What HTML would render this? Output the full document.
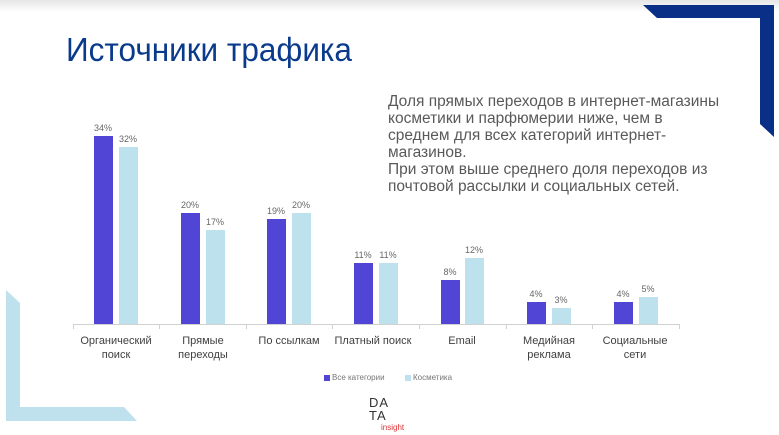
<!DOCTYPE html>
<html><head><meta charset="utf-8"><style>
body{margin:0;width:779px;height:435px;overflow:hidden;background:#fff;font-family:"Liberation Sans",sans-serif;position:relative}
.a{position:absolute}
.v{position:absolute;font-size:9px;color:#666;width:30px;text-align:center}
.l{position:absolute;font-size:11px;color:#404040;width:86px;text-align:center;line-height:14px}
</style></head><body>
<div class="a" style="left:0;top:0;width:779px;height:12px;background:linear-gradient(#e6e6e6,#fff)"></div>
<svg class="a" style="left:0;top:0" width="779" height="435">
<polygon points="643,5 774,5 774,137 760,124 760,18 657,18" fill="#0a2f87"/>
<polygon points="6,290 20,303 20,407 124,407 137,421 6,421" fill="#bfe1ee"/>
<line x1="73" y1="324.5" x2="680" y2="324.5" stroke="#d0d0d0"/>
<g stroke="#d0d0d0">
<line x1="73.5" y1="324" x2="73.5" y2="329"/><line x1="159.5" y1="324" x2="159.5" y2="329"/><line x1="246.5" y1="324" x2="246.5" y2="329"/><line x1="332.5" y1="324" x2="332.5" y2="329"/><line x1="419.5" y1="324" x2="419.5" y2="329"/><line x1="506.5" y1="324" x2="506.5" y2="329"/><line x1="592.5" y1="324" x2="592.5" y2="329"/><line x1="679.5" y1="324" x2="679.5" y2="329"/>
</g>
<g fill="#5045d4">
<rect x="94" y="136" width="19" height="188"/><rect x="181" y="213" width="19" height="111"/><rect x="267" y="219" width="19" height="105"/><rect x="354" y="263" width="19" height="61"/><rect x="441" y="280" width="19" height="44"/><rect x="527" y="302" width="19" height="22"/><rect x="614" y="302" width="19" height="22"/>
</g>
<g fill="#bde2ee">
<rect x="119" y="147" width="19" height="177"/><rect x="206" y="230" width="19" height="94"/><rect x="292" y="213" width="19" height="111"/><rect x="379" y="263" width="19" height="61"/><rect x="465" y="258" width="19" height="66"/><rect x="552" y="308" width="19" height="16"/><rect x="639" y="297" width="19" height="27"/>
</g>
<rect x="324" y="375" width="6" height="6" fill="#5045d4"/><rect x="405" y="375" width="6" height="6" fill="#bde2ee"/>
</svg>
<div class="a" style="left:66px;top:31px;font-size:33px;color:#0a3a8c;transform:scaleX(0.955);transform-origin:left top;white-space:nowrap">Источники трафика</div>
<div class="a" style="left:388px;top:93px;font-size:15.5px;line-height:17px;color:#595959;width:340px">Доля прямых переходов в интернет-магазины косметики и парфюмерии ниже, чем в среднем для всех категорий интернет-магазинов.<br>При этом выше среднего доля переходов из почтовой рассылки и социальных сетей.</div>
<div class="v" style="left:88px;top:123px">34%</div><div class="v" style="left:113px;top:134px">32%</div>
<div class="v" style="left:175px;top:200px">20%</div><div class="v" style="left:200px;top:217px">17%</div>
<div class="v" style="left:261px;top:206px">19%</div><div class="v" style="left:286px;top:200px">20%</div>
<div class="v" style="left:348px;top:250px">11%</div><div class="v" style="left:373px;top:250px">11%</div>
<div class="v" style="left:435px;top:267px">8%</div><div class="v" style="left:459px;top:245px">12%</div>
<div class="v" style="left:521px;top:289px">4%</div><div class="v" style="left:546px;top:295px">3%</div>
<div class="v" style="left:608px;top:289px">4%</div><div class="v" style="left:633px;top:284px">5%</div>
<div class="l" style="left:73px;top:334px">Органический поиск</div>
<div class="l" style="left:160px;top:334px">Прямые переходы</div>
<div class="l" style="left:246px;top:334px">По ссылкам</div>
<div class="l" style="left:330px;top:334px">Платный поиск</div>
<div class="l" style="left:419px;top:334px">Email</div>
<div class="l" style="left:506px;top:334px">Медийная реклама</div>
<div class="l" style="left:592px;top:334px">Социальные сети</div>
<div class="a" style="left:332px;top:373px;font-size:8px;color:#777">Все категории</div>
<div class="a" style="left:413px;top:373px;font-size:8px;color:#777">Косметика</div>
<div class="a" style="left:369px;top:396px;font-size:13px;line-height:13px;color:#333;letter-spacing:1px">DA<br>TA</div>
<div class="a" style="left:381px;top:423px;font-size:8px;color:#e03030">insight</div>
</body></html>
